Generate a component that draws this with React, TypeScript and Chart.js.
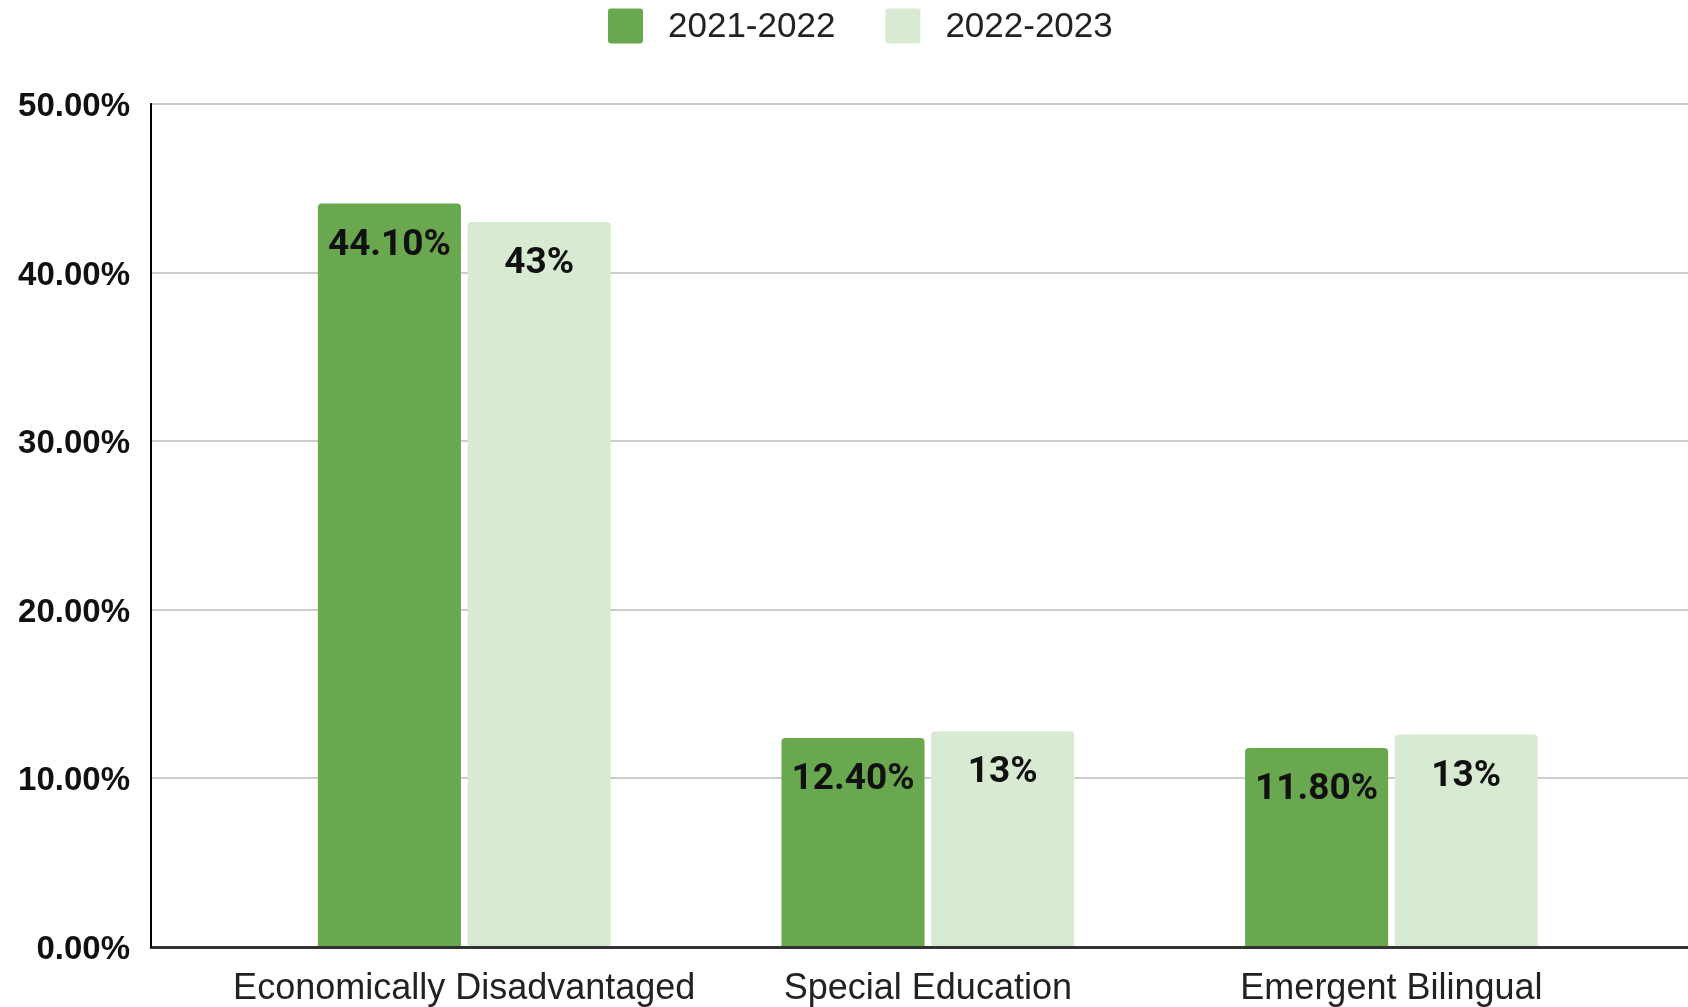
import React, { useEffect, useRef } from "react";
import { Chart, registerables } from "chart.js";

Chart.register(...registerables);

const categories = ["Economically Disadvantaged", "Special Education", "Emergent Bilingual"];
const seriesNames = ["2021-2022", "2022-2023"];
const values2122 = [44.1, 12.4, 11.8];
const values2223 = [43.0, 12.8, 12.6];
const yTicks = [0, 10, 20, 30, 40, 50];
const colors = ["#6aa84f", "#d9ead3"];

const dataLabelPlugin = {
  id: "dataLabels",
  afterDatasetsDraw(chart: any) {
    const ctx = chart.ctx;
    ctx.save();
    ctx.font = "bold 37px Roboto";
    ctx.fillStyle = "#111111";
    ctx.textAlign = "center";
    ctx.textBaseline = "middle";
    chart.data.datasets.forEach((ds: any, di: number) => {
      const meta = chart.getDatasetMeta(di);
      meta.data.forEach((bar: any, i: number) => {
        const v = ds.data[i].y;
        const txt = di === 0 ? v.toFixed(2) + "%" : Math.round(v) + "%";
        ctx.fillText(txt, bar.x, bar.y + 42);
      });
    });
    ctx.restore();
  },
};

const legendPlugin = {
  id: "customLegend",
  afterDraw(chart: any) {
    const ctx = chart.ctx;
    ctx.save();
    ctx.font = "35px 'Liberation Sans', Arial";
    ctx.textBaseline = "middle";
    ctx.textAlign = "left";
    let x = 608;
    const cy = 26;
    const box = 35;
    seriesNames.forEach((name, i) => {
      ctx.fillStyle = colors[i];
      ctx.beginPath();
      (ctx as any).roundRect(x, cy - box / 2, box, box, 3);
      ctx.fill();
      ctx.fillStyle = "#222222";
      const tx = x + box + 25;
      ctx.fillText(name, tx, cy + 1);
      x = tx + ctx.measureText(name).width + 50;
    });
    ctx.restore();
  },
};

export default function App() {
  const ref = useRef<HTMLCanvasElement | null>(null);
  useEffect(() => {
    document.body.style.margin = "0";
    if (!ref.current) return;
    const chart = new Chart(ref.current, {
      type: "bar",
      data: {
        datasets: [
          {
            label: seriesNames[0],
            data: values2122.map((v, i) => ({ x: i, y: v })),
            backgroundColor: colors[0],
            borderRadius: { topLeft: 4, topRight: 4, bottomLeft: 0, bottomRight: 0 },
            borderSkipped: false,
            categoryPercentage: 0.6457,
            barPercentage: 0.956,
          },
          {
            label: seriesNames[1],
            data: values2223.map((v, i) => ({ x: i, y: v })),
            backgroundColor: colors[1],
            borderRadius: { topLeft: 4, topRight: 4, bottomLeft: 0, bottomRight: 0 },
            borderSkipped: false,
            categoryPercentage: 0.6457,
            barPercentage: 0.956,
          },
        ],
      },
      options: {
        responsive: false,
        animation: false,
        devicePixelRatio: 1,
        layout: { padding: { top: 104, left: 0, right: 0, bottom: 0 } },
        plugins: { legend: { display: false }, tooltip: { enabled: false } },
        scales: {
          x: {
            type: "linear",
            offset: false,
            min: -0.6757,
            max: 2.6397,
            afterBuildTicks: (scale: any) => {
              scale.ticks = categories.map((_, i) => ({ value: i }));
            },
            afterFit: (scale: any) => {
              scale.height = 60;
            },
            grid: { display: true, color: "transparent", drawTicks: false, offset: false },
            border: { display: true, color: "#333333", width: 3 },
            ticks: {
              autoSkip: false,
              maxRotation: 0,
              padding: 20,
              color: "#222222",
              font: { family: "'Liberation Sans', Arial", size: 36 },
              callback: (v: any) => categories[v as number] ?? "",
            },
          },
          y: {
            min: 0,
            max: 50,
            afterBuildTicks: (scale: any) => {
              scale.ticks = yTicks.map((v) => ({ value: v }));
            },
            afterFit: (scale: any) => {
              scale.width = 151;
            },
            grid: { color: "#cccccc", lineWidth: 2, drawTicks: false },
            border: { display: true, color: "#000000", width: 2 },
            ticks: {
              padding: 21,
              labelOffset: 3,
              color: "#111111",
              font: { family: "'Liberation Sans', Arial", size: 33, weight: "bold" },
              callback: (v: any) => Number(v).toFixed(2) + "%",
            },
          },
        },
      },
      plugins: [dataLabelPlugin, legendPlugin],
    } as any);
    return () => chart.destroy();
  }, []);
  return (
    <canvas
      ref={ref}
      width={1688}
      height={1007}
      style={{ display: "block", width: 1688, height: 1007 }}
    />
  );
}
